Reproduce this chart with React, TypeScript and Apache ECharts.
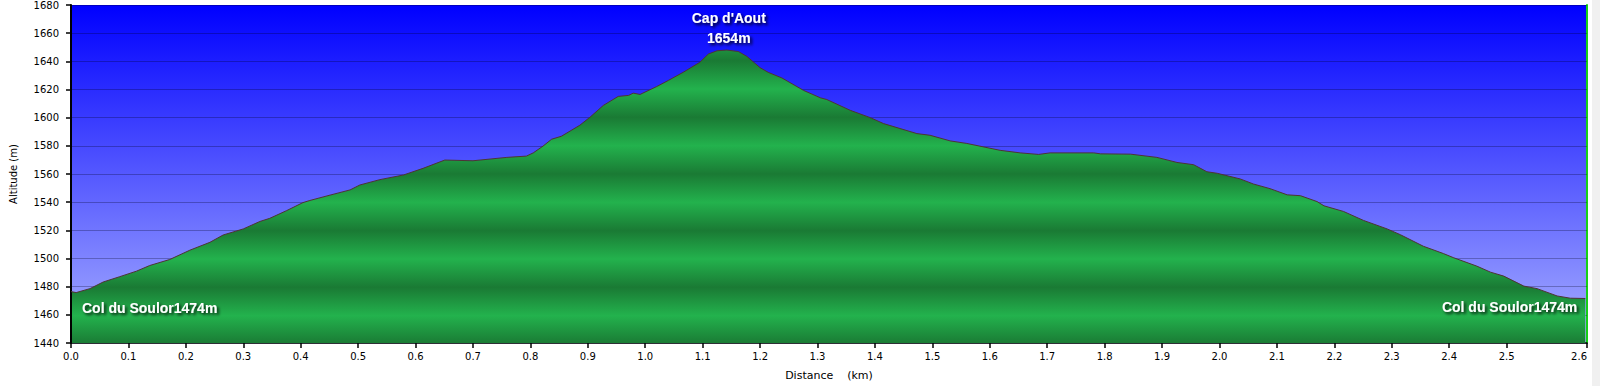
import React, { useEffect, useRef } from "react";
import * as echarts from "echarts";

const distanceKm = [
  0, 0.009, 0.033, 0.056, 0.085, 0.114, 0.137, 0.172, 0.207, 0.242, 0.265, 0.3, 0.329, 0.346, 0.375, 0.404,
  0.416, 0.451, 0.486, 0.503, 0.538, 0.579, 0.613, 0.651, 0.7, 0.759, 0.793, 0.805, 0.822, 0.837, 0.854,
  0.886, 0.904, 0.927, 0.953, 0.971, 0.979, 0.991, 1.02, 1.04, 1.066, 1.095, 1.11, 1.125, 1.142, 1.162,
  1.177, 1.2, 1.214, 1.238, 1.276, 1.305, 1.316, 1.357, 1.392, 1.415, 1.473, 1.496, 1.531, 1.56, 1.618,
  1.653, 1.685, 1.705, 1.781, 1.793, 1.845, 1.891, 1.926, 1.955, 1.978, 1.996, 2.036, 2.059, 2.088, 2.118,
  2.141, 2.17, 2.182, 2.216, 2.251, 2.292, 2.315, 2.355, 2.39, 2.408, 2.448, 2.472, 2.495, 2.53, 2.553,
  2.588, 2.611, 2.637,
];
const altitudeM = [
  1476.5, 1475.8, 1478.6, 1483.3, 1487.1, 1491, 1495, 1499.3, 1505.9, 1511.5, 1516.7, 1521, 1526.3, 1528.5,
  1533.9, 1539.7, 1541.2, 1545, 1548.7, 1552.2, 1556, 1559.3, 1564, 1569.9, 1569.4, 1571.8, 1572.7, 1575,
  1579.8, 1584.7, 1586.8, 1594.6, 1600.4, 1608.7, 1615.1, 1615.8, 1617.4, 1616.5, 1622.1, 1626.4, 1632.2,
  1639.3, 1645.2, 1647.5, 1648, 1647, 1643.5, 1635.5, 1632.2, 1628.2, 1619.3, 1614.1, 1612.9, 1605.2, 1600,
  1595.8, 1588.7, 1587.5, 1583.5, 1581.7, 1576.8, 1575, 1573.9, 1575, 1575, 1574.3, 1574.1, 1571.8, 1568.2,
  1566.6, 1561.6, 1560.5, 1556.5, 1552.9, 1549.6, 1545.2, 1544.6, 1540.4, 1537.4, 1533.4, 1527, 1521, 1516.9,
  1508.7, 1503.5, 1500.5, 1494.6, 1490.3, 1487.5, 1480.4, 1478.6, 1473.4, 1471.8, 1471.6,
];
const xTickValues = [
  0, 0.1, 0.2, 0.3, 0.4, 0.5, 0.6, 0.7, 0.8, 0.9, 1.0, 1.1, 1.2, 1.3, 1.4, 1.5, 1.6, 1.7, 1.8, 1.9, 2.0,
  2.1, 2.2, 2.3, 2.4, 2.5, 2.64,
];
const xMax = 2.64;
const yMin = 1440;
const yMax = 1680;
const yStep = 20;
const summit = { name: "Cap d'Aout", label: "1654m", km: 1.142, alt: 1648 };
const startLabel = "Col du Soulor1474m";
const endLabel = "Col du Soulor1474m";

const GRID = { left: 71, top: 4, right: 13, bottom: 42 };
const H = 386;

export default function App() {
  const ref = useRef<HTMLDivElement>(null);
  useEffect(() => {
    if (!ref.current) return;
    const chart = echarts.init(ref.current, undefined, { renderer: "svg" });
    const data = distanceKm.map((d, i) => [d, altitudeM[i]]);

    // banded green fill (global pixel gradient over plot height)
    const stops: any[] = [];
    for (let a = yMax; a >= yMin; a -= yStep) {
      const dark = (a - 1480) % 40 === 0;
      stops.push({ offset: (yMax - a) / (yMax - yMin), color: dark ? "#1a7a34" : "#23b24d" });
    }
    const green = {
      type: "linear",
      x: 0,
      y: GRID.top,
      x2: 0,
      y2: H - GRID.bottom,
      global: true,
      colorStops: stops,
    };

    const labelFont = {
      color: "#ffffff",
      fontWeight: "bold",
      fontSize: 14,
      fontFamily: '"Liberation Sans", Arial, sans-serif',
      textShadowColor: "rgba(0,0,0,0.85)",
      textShadowBlur: 3,
      textShadowOffsetX: 2,
      textShadowOffsetY: 2,
    };
    const axisFont = { color: "#000", fontSize: 10, fontFamily: '"DejaVu Sans", Verdana, sans-serif' };

    chart.setOption({
      animation: false,
      backgroundColor: "#ffffff",
      grid: {
        ...GRID,
        show: true,
        borderWidth: 0,
        backgroundColor: {
          type: "linear",
          x: 0,
          y: 0,
          x2: 0,
          y2: 1,
          colorStops: [
            { offset: 0, color: "#0000ff" },
            { offset: 1, color: "#a9b0ff" },
          ],
        },
      },
      xAxis: {
        type: "value",
        min: 0,
        max: xMax,
        name: "Distance    (km)",
        nameLocation: "middle",
        nameGap: 27,
        nameTextStyle: { ...axisFont, fontSize: 11 },
        axisLine: { show: true, lineStyle: { color: "#000", width: 1.5 } },
        axisTick: { show: true, length: 5, lineStyle: { color: "#000", width: 1.5 }, customValues: xTickValues },
        axisLabel: {
          ...axisFont,
          margin: 8,
          customValues: xTickValues,
          alignMaxLabel: "right",
          formatter: (v: number) => v.toFixed(1),
        },
        splitLine: { show: false },
      },
      yAxis: [
        {
          type: "value",
          min: yMin,
          max: yMax,
          interval: yStep,
          z: 3,
          name: "Altitude (m)",
          nameLocation: "middle",
          nameGap: 53,
          nameRotate: 90,
          nameTextStyle: { ...axisFont, fontSize: 10 },
          axisLine: { show: true, lineStyle: { color: "#000", width: 2 } },
          axisTick: { show: true, length: 5, lineStyle: { color: "#000", width: 1.5 } },
          axisLabel: { ...axisFont, margin: 12, formatter: (v: number) => String(v) },
          splitLine: { show: true, lineStyle: { color: "rgba(0,0,30,0.28)", width: 1 } },
        },
        {
          type: "value",
          min: yMin,
          max: yMax,
          interval: yStep,
          position: "right",
          axisLine: { show: true, lineStyle: { color: "#16d016", width: 2 } },
          axisTick: { show: false },
          axisLabel: { show: false },
          splitLine: { show: false },
        },
      ],
      series: [
        {
          type: "line",
          data,
          showSymbol: false,
          symbol: "none",
          lineStyle: { color: "#4e3434", width: 1 },
          areaStyle: { color: green, opacity: 1, origin: "start" },
          markPoint: {
            symbol: "circle",
            symbolSize: 2,
            itemStyle: { color: "rgba(0,0,0,0)" },
            data: [
              {
                coord: [summit.km, summit.alt],
                label: {
                  show: true,
                  formatter: summit.name + "\n" + summit.label,
                  position: "inside",
                  align: "center",
                  verticalAlign: "bottom",
                  lineHeight: 20,
                  offset: [2, -2.5],
                  ...labelFont,
                },
              },
              {
                coord: [distanceKm[0], altitudeM[0]],
                label: {
                  show: true,
                  formatter: startLabel,
                  position: "inside",
                  align: "left",
                  verticalAlign: "middle",
                  offset: [11, 16],
                  ...labelFont,
                },
              },
              {
                coord: [distanceKm[distanceKm.length - 1], altitudeM[altitudeM.length - 1]],
                label: {
                  show: true,
                  formatter: endLabel,
                  position: "inside",
                  align: "right",
                  verticalAlign: "middle",
                  offset: [-8, 9],
                  ...labelFont,
                },
              },
            ],
          },
        },
      ],
      graphic: [
        {
          type: "rect",
          right: 0,
          top: 0,
          shape: { width: 8, height: H },
          style: { fill: "#f0f0f0" },
          z: 10,
        },
      ],
    });
    return () => chart.dispose();
  }, []);
  return (
    <div
      ref={ref}
      style={{ position: "fixed", left: 0, top: 0, width: 1600, height: H }}
    />
  );
}
